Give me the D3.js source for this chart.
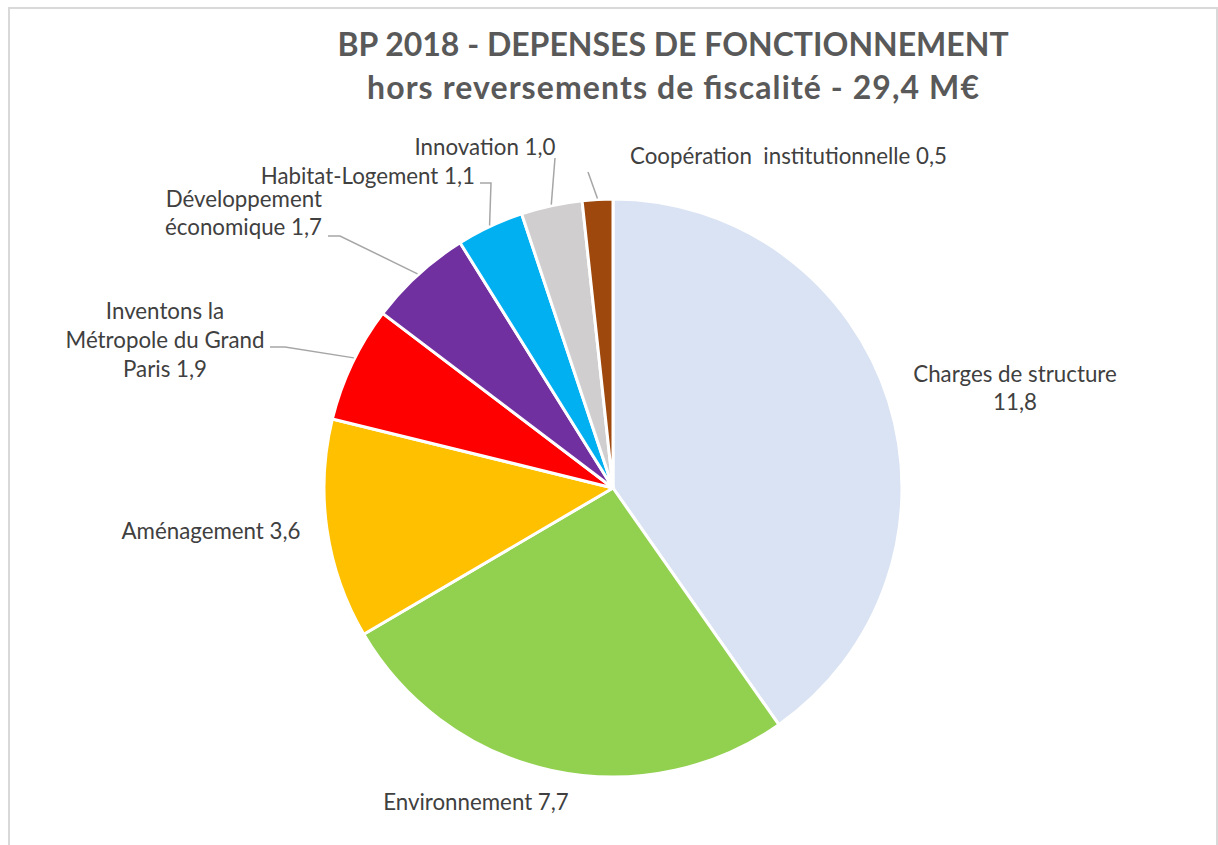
<!DOCTYPE html>
<html>
<head>
<meta charset="utf-8">
<script src="https://cdn.jsdelivr.net/npm/d3@7"></script>
<style>
  html, body { margin: 0; padding: 0; background: #fff; }
  svg { display: block; }
</style>
</head>
<body>
<svg id="chart" width="1218" height="845"></svg>
<script>
// Budget lines (M€), in drawing order clockwise from 12 o'clock
const categories = [
  "Charges de structure",
  "Environnement",
  "Aménagement",
  "Inventons la Métropole du Grand Paris",
  "Développement économique",
  "Habitat-Logement",
  "Innovation",
  "Coopération  institutionnelle"
];
const values = [11.8, 7.7, 3.6, 1.9, 1.7, 1.1, 1.0, 0.5];
const colors = ["#dae3f3", "#92d050", "#ffc000", "#ff0000", "#7030a0", "#00b0f0", "#d0cece", "#9e480e"];

// Label text lines (value appended from the values array)
const labelLines = [
  v => ["Charges de structure", v],
  v => ["Environnement " + v],
  v => ["Aménagement " + v],
  v => ["Inventons la", "Métropole du Grand", "Paris " + v],
  v => ["Développement", "économique " + v],
  v => ["Habitat-Logement " + v],
  v => ["Innovation " + v],
  v => ["Coopération  institutionnelle " + v]
];

// Label placement: anchor point, text-anchor, line step and optional leader elbow
const labelLayout = [
  { x: 1015, y: 382, anchor: "middle", step: 28 },
  { x: 476, y: 810, anchor: "middle" },
  { x: 211, y: 539, anchor: "middle" },
  { x: 165, y: 319, anchor: "middle", step: 29, leader: [[270, 347], [285, 347]], frac: 0.55 },
  { x: 322, y: 207, anchor: "end", step: 28, leader: [[328, 236], [340, 236]], frac: 0.5 },
  { x: 475, y: 184, anchor: "end", leader: [[480, 183], [491, 183]], frac: 0.5 },
  { x: 485, y: 155, anchor: "middle", leader: [[555, 158]], frac: 0.5 },
  { x: 630, y: 164, anchor: "start", leader: [[588, 172]], frac: 0.5 }
];

const fmt = v => d3.format(".1f")(v).replace(".", ",");

const svg = d3.select("#chart");
const font = "Lato, 'Open Sans', sans-serif";

// Chart frame
svg.append("rect")
  .attr("x", 9).attr("y", 8)
  .attr("width", 1208).attr("height", 860)
  .attr("fill", "none")
  .attr("stroke", "#d9d9d9")
  .attr("stroke-width", 2);

// Title
const title = svg.append("text")
  .attr("text-anchor", "middle")
  .attr("fill", "#595959")
  .attr("font-family", font)
  .attr("font-weight", "bold")
  .attr("font-size", 32);
title.append("tspan").attr("x", 673).attr("y", 56).text("BP 2018 - DEPENSES DE FONCTIONNEMENT");
title.append("tspan").attr("x", 673).attr("y", 99)
  .attr("textLength", 612).attr("lengthAdjust", "spacing")
  .text("hors reversements de fiscalité - 29,4 M€");

// Pie
const cx = 613, cy = 488, radius = 289;
const pie = d3.pie().sort(null).value(d => d);
const arcs = pie(values);
const arc = d3.arc().innerRadius(0).outerRadius(radius);

const g = svg.append("g").attr("transform", `translate(${cx},${cy})`);
g.selectAll("path.slice")
  .data(arcs)
  .join("path")
  .attr("class", "slice")
  .attr("d", arc)
  .attr("fill", (d, i) => colors[i])
  .attr("stroke", "#ffffff")
  .attr("stroke-width", 3)
  .attr("stroke-linejoin", "round");

// Leader lines: from the label elbow to the slice's outer edge
arcs.forEach((a, i) => {
  const L = labelLayout[i];
  if (!L.leader) return;
  const ang = a.startAngle + (a.endAngle - a.startAngle) * L.frac;
  const ex = cx + Math.sin(ang) * (radius + 1);
  const ey = cy - Math.cos(ang) * (radius + 1);
  const pts = L.leader.concat([[ex, ey]]);
  svg.append("path")
    .attr("d", d3.line()(pts))
    .attr("fill", "none")
    .attr("stroke", "#a6a6a6")
    .attr("stroke-width", 1.5);
});

// Labels
arcs.forEach((a, i) => {
  const L = labelLayout[i];
  const lines = labelLines[i](fmt(values[i]));
  const t = svg.append("text")
    .attr("text-anchor", L.anchor)
    .attr("fill", "#404040")
    .attr("font-family", font)
    .attr("font-size", 22.3)
    .style("white-space", "pre");
  lines.forEach((ln, k) => {
    t.append("tspan")
      .attr("x", L.x)
      .attr("y", L.y + k * (L.step || 0))
      .text(ln);
  });
});
</script>
</body>
</html>
